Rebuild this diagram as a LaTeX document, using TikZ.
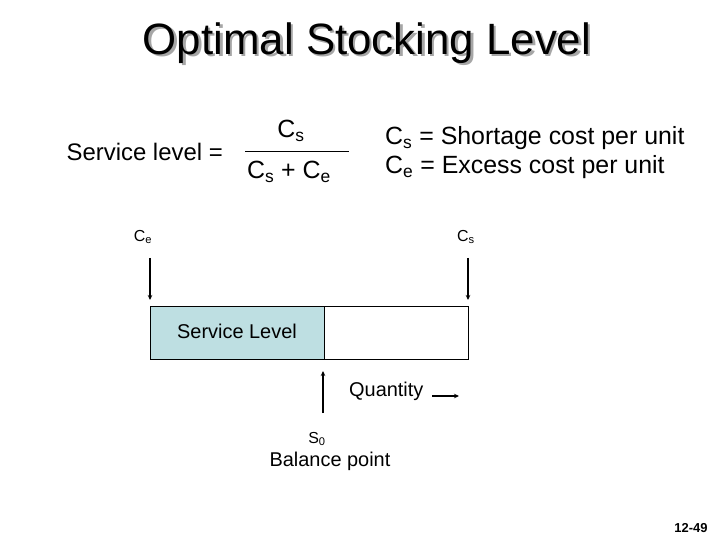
\documentclass[tikz,border=0pt]{standalone}
\usepackage{fontspec}
\setmainfont{Liberation Sans}
\usetikzlibrary{calc, positioning}
\usetikzlibrary{arrows.meta}
\definecolor{servicefill}{HTML}{BEDFE2}

\begin{document}
\begin{tikzpicture}[x=1bp,y=-1bp,
    txt/.style={inner sep=0pt, font=\fontsize{20}{24}\selectfont},
    big/.style={inner sep=0pt, font=\fontsize{25}{30}\selectfont},
    small/.style={inner sep=0pt, font=\fontsize{16}{19}\selectfont},
    pointer/.style={-{Stealth[length=5pt,width=4.5pt]}, line width=1.4pt}]
\useasboundingbox (0,0) rectangle (720,540);

% title with its shadow
\node[inner sep=0pt, text=black!35, font=\fontsize{44}{52}\selectfont] at (369.5,45.5) {Optimal Stocking Level};
\node[inner sep=0pt, font=\fontsize{44}{52}\selectfont] (title) at (367,43) {Optimal Stocking Level};

% formula
\node[inner sep=0pt, font=\fontsize{24}{28}\selectfont, anchor=east] (sl) at (223,152) {Service level =};
\node[big] (num) at (291,131) {C\textsubscript{s}};
\node[big] (den) at (289,172) {C\textsubscript{s} + C\textsubscript{e}};
\coordinate (fracl) at (245,151);
\coordinate (fracr) at (349,151);
\draw[line width=0.8pt] (fracl) -- (fracr);
\node[big, anchor=west] (defs) at (385,138) {C\textsubscript{s} = Shortage cost per unit};
\node[big, anchor=west] (defe) at (385,167) {C\textsubscript{e} = Excess cost per unit};

% bar
\coordinate (barnw) at (150,306);
\coordinate (barmid) at (324,359);
\coordinate (barse) at (468,359);
\fill[servicefill] (barnw) rectangle (barmid);
\draw[line width=0.8pt] (barnw) rectangle (barse);
\draw[line width=0.8pt] (barmid) -- (barmid |- barnw);
\node[txt] (service) at (237,331) {Service Level};

% cost arrows
\node[small] (ce) at (143,237) {C\textsubscript{e}};
\node[small] (cs) at (466,237) {C\textsubscript{s}};
\coordinate (cetop) at (150,258);
\coordinate (cetip) at (150,300);
\coordinate (cstop) at (468,258);
\coordinate (cstip) at (468,300);
\draw[pointer] (cetop) -- (cetip);
\draw[pointer] (cstop) -- (cstip);

% balance point
\coordinate (sbot) at (323,413);
\coordinate (stop) at (323,371);
\draw[pointer] (sbot) -- (stop);
\node[txt, anchor=west] (qty) at (349,391) {Quantity};
\coordinate (qfrom) at (432,396);
\coordinate (qto) at (459,396);
\draw[pointer] (qfrom) -- (qto);
\node[small] (s0) at (317,439) {S\textsubscript{0}};
\node[txt] (balance) at (330,461) {Balance point};

\node[inner sep=0pt, font=\bfseries\fontsize{13}{15}\selectfont] (page) at (691,528) {12-49};
\end{tikzpicture}
\end{document}
